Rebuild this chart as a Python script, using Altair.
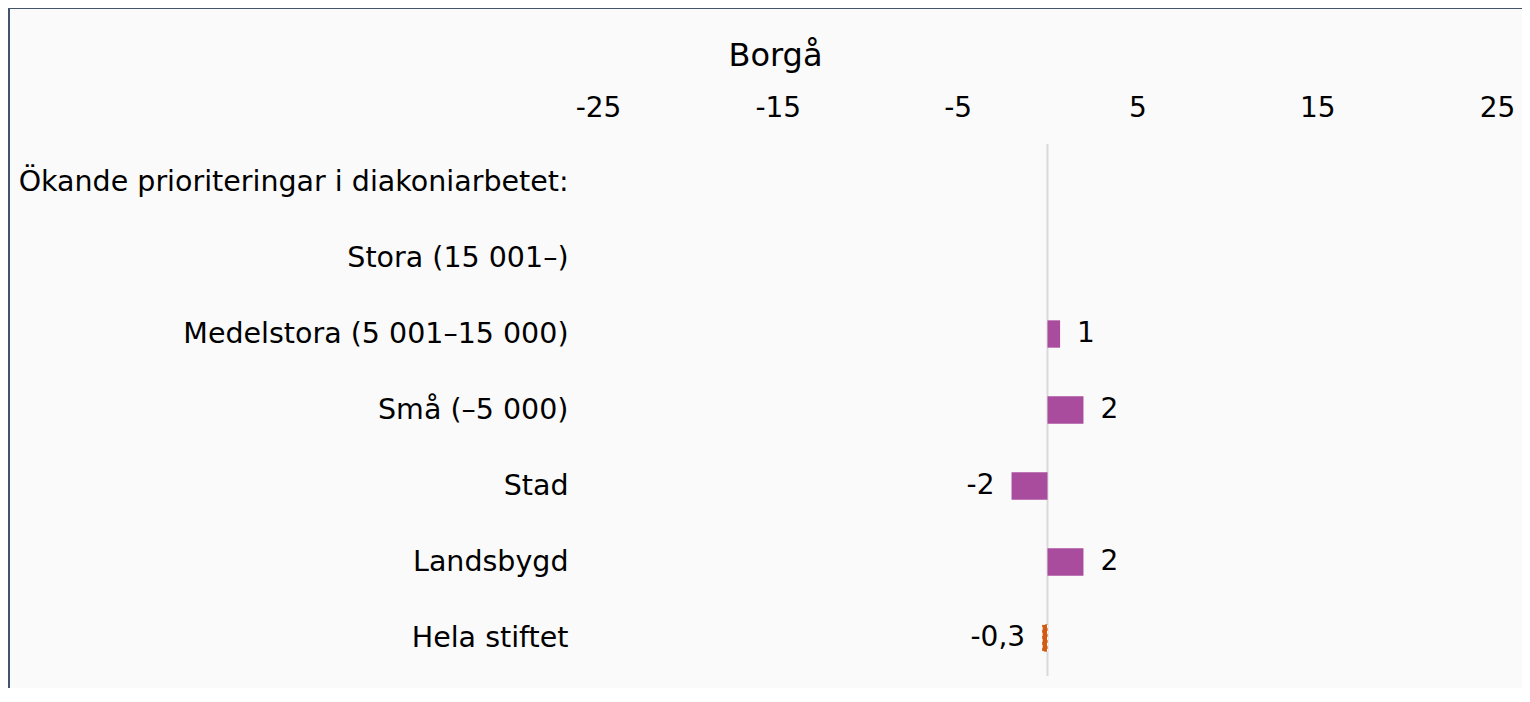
import altair as alt
import pandas as pd

categories = [
    "Ökande prioriteringar i diakoniarbetet:",
    "Stora (15 001–)",
    "Medelstora (5 001–15 000)",
    "Små (–5 000)",
    "Stad",
    "Landsbygd",
    "Hela stiftet",
]
values = [None, None, 0.7, 2.0, -2.0, 2.0, -0.3]
value_labels = ["", "", "1", "2", "-2", "2", "-0,3"]
groups = ["none", "none", "sub", "sub", "sub", "sub", "total"]
tick_values = [-25, -15, -5, 5, 15, 25]

FONT = "DejaVu Sans"
PURPLE = "#A94C9E"
ORANGE = "#D35A11"
W, H = 899, 532
PAD_L, PAD_T, PAD_R, PAD_B = 590, 136, 25, 12
FS = 28

df = pd.DataFrame({"cat": categories, "value": values, "lab": value_labels, "grp": groups})

x_scale = alt.Scale(domain=[-25, 25], nice=False, zero=False)
y_scale = alt.Scale(domain=categories, paddingInner=0.64, paddingOuter=0.32)

x_enc = alt.X(
    "value:Q",
    scale=x_scale,
    axis=alt.Axis(
        orient="top", values=tick_values, labelExpr="datum.value + ''",
        title=None, grid=False, ticks=False, domain=False, labelFlush=False,
        labelFontSize=FS, labelFont=FONT, labelColor="#000000", labelPadding=22,
    ),
)
y_enc = alt.Y(
    "cat:N",
    scale=y_scale,
    sort=categories,
    axis=alt.Axis(
        title=None, ticks=False, domain=False, grid=False,
        labelFontSize=28.5, labelFont=FONT, labelColor="#000000",
        labelPadding=30, labelLimit=0, labelAlign="right",
    ),
)

base = alt.Chart(df)

zero_rule = alt.Chart(pd.DataFrame({"z": [0]})).mark_rule(
    color="#D9D9D9", strokeWidth=2
).encode(x=alt.X("z:Q", scale=x_scale), y=alt.value(0), y2=alt.value(H))

bars_sub = base.transform_filter("datum.grp == 'sub'").mark_bar(color=PURPLE).encode(
    x=x_enc, x2=alt.datum(0), y=y_enc
)
bars_total = base.transform_filter("datum.grp == 'total'").mark_bar(
    color=ORANGE, stroke="#FFFFFF", strokeWidth=1, strokeDash=[3, 3]
).encode(x=x_enc, x2=alt.datum(0), y=y_enc)

labels_pos = base.transform_filter("datum.value > 0").mark_text(
    align="left", baseline="middle", dx=17, fontSize=FS, font=FONT, color="#000000"
).encode(x=x_enc, y=y_enc, text="lab:N")
labels_neg = base.transform_filter("datum.value < 0").mark_text(
    align="right", baseline="middle", dx=-17, fontSize=FS, font=FONT, color="#000000"
).encode(x=x_enc, y=y_enc, text="lab:N")

frame = alt.Chart(pd.DataFrame({"f": [1]})).mark_rect(
    fill="transparent", stroke="#44546A", strokeWidth=2
).encode(
    x=alt.value(-PAD_L + 1), x2=alt.value(W + 200),
    y=alt.value(-PAD_T + 0), y2=alt.value(H + 200),
)

chart = alt.layer(zero_rule, bars_sub, bars_total, labels_pos, labels_neg, frame).properties(
    width=W,
    height=H,
    title=alt.TitleParams(
        "Borgå", fontSize=32, font=FONT, fontWeight="normal", color="#000000",
        anchor="middle", dx=-272, dy=66, offset=0,
    ),
    autosize=alt.AutoSizeParams(type="none"),
    padding={"left": PAD_L, "top": PAD_T, "right": PAD_R, "bottom": PAD_B},
    background="#FAFAFA",
).configure_view(stroke=None)

chart.save("out.html", embed_options={"renderer": "svg", "actions": False})
